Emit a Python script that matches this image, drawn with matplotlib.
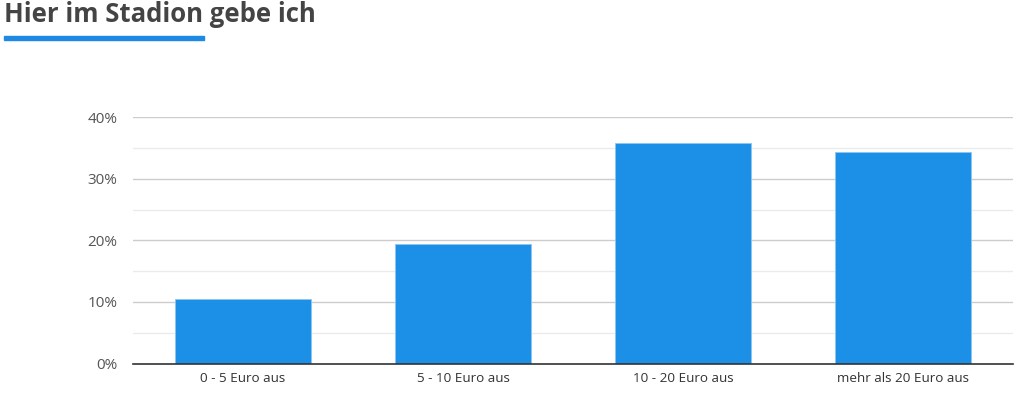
import matplotlib
matplotlib.use("Agg")
import matplotlib.pyplot as plt
from matplotlib.patches import Rectangle
from matplotlib.ticker import MultipleLocator, FuncFormatter

categories = ["0 - 5 Euro aus", "5 - 10 Euro aus", "10 - 20 Euro aus", "mehr als 20 Euro aus"]
values = [10.4, 19.4, 35.8, 34.3]
title = "Hier im Stadion gebe ich"

plt.rcParams["font.family"] = ["Open Sans", "DejaVu Sans"]

fig = plt.figure(figsize=(10.28, 4), dpi=100)
ax = fig.add_axes([133 / 1028, 36.5 / 400, 880 / 1028, 246.2 / 400])

ax.bar(range(len(categories)), values, width=0.62, color="#1b90e6",
       edgecolor="#8cc6f0", linewidth=0.6, zorder=3)

ax.set_xlim(-0.5, len(categories) - 0.5)
ax.set_ylim(0, 40)
ax.yaxis.set_major_locator(MultipleLocator(10))
ax.yaxis.set_minor_locator(MultipleLocator(5))
ax.yaxis.set_major_formatter(FuncFormatter(lambda v, p: f"{v:.0f}%"))
ax.grid(axis="y", which="major", color="#cccccc", linewidth=1, zorder=0)
ax.grid(axis="y", which="minor", color="#ebebeb", linewidth=1, zorder=0)

ax.set_xticks(range(len(categories)))
ax.set_xticklabels(categories)
ax.tick_params(axis="x", length=0, pad=6, labelsize=9.7, labelcolor="#333333")
ax.tick_params(axis="y", which="both", length=0, pad=11, labelsize=11, labelcolor="#555555")

for s in ["top", "right", "left"]:
    ax.spines[s].set_visible(False)
ax.spines["bottom"].set_color("#333333")
ax.spines["bottom"].set_linewidth(1.2)
ax.spines["bottom"].set_zorder(4)

fig.text(4 / 1028, 1 - 14.5 / 400, title, fontsize=18.5, fontweight="bold",
         color="#444444", va="center", ha="left")
fig.patches.append(Rectangle((4 / 1028, 1 - 40 / 400), 200 / 1028, 4.5 / 400,
                             transform=fig.transFigure, color="#1e88e5"))

fig.savefig("out.png", dpi=100)
